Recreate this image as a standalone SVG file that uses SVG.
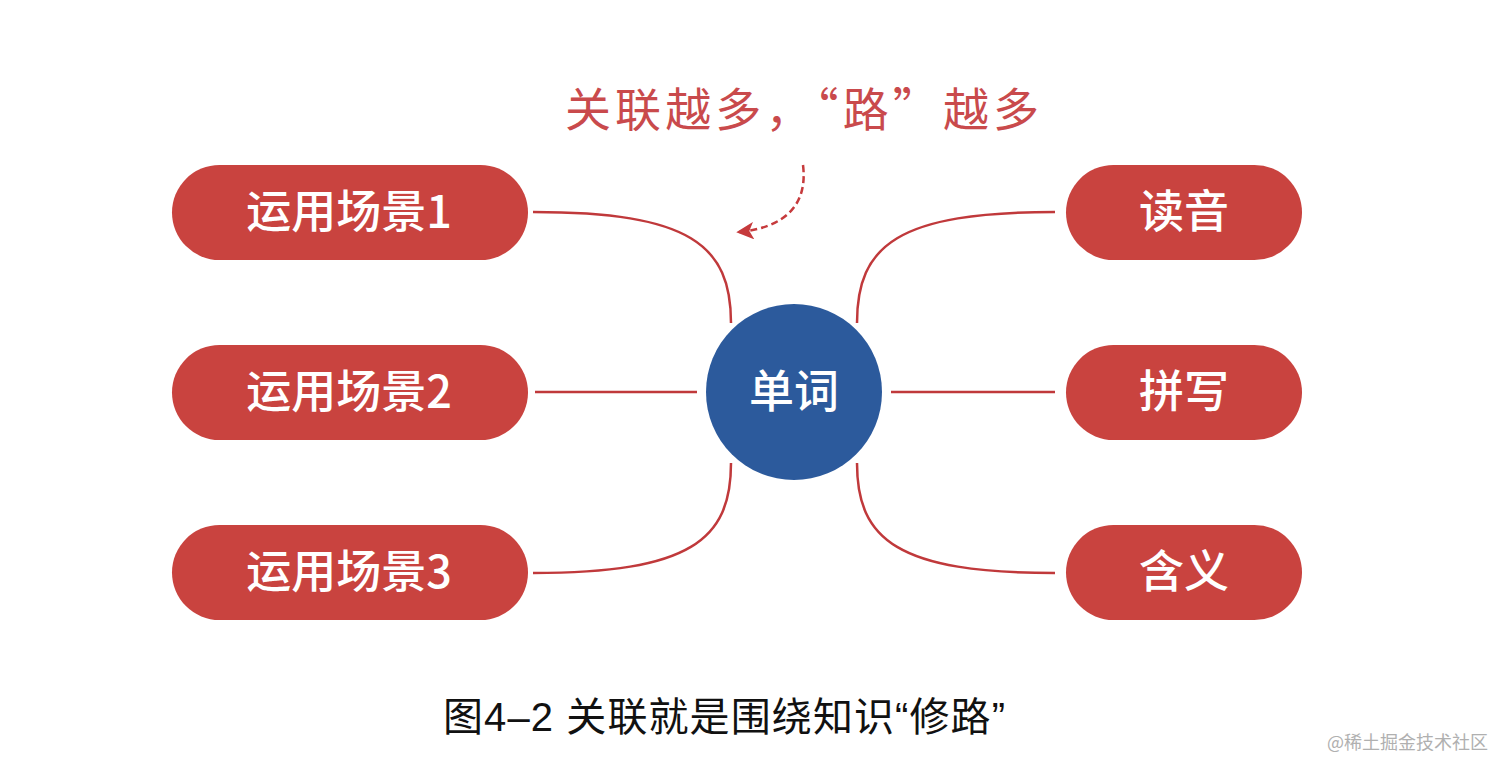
<svg xmlns="http://www.w3.org/2000/svg" width="1512" height="775" viewBox="0 0 1512 775">
<defs>
<style>
.pill{fill:#c9433f;}
.pt{fill:#ffffff;font-family:"Noto Sans CJK SC","Liberation Sans",sans-serif;font-size:45px;font-weight:500;text-anchor:middle;}
.con{fill:none;stroke:#c0393b;stroke-width:2.5;}
</style>
<marker id="ah" viewBox="0 0 10 10" refX="9" refY="5" markerWidth="7" markerHeight="7" markerUnits="strokeWidth" orient="auto">
<path d="M0,0 L10,5 L0,10 L2.5,5 Z" fill="#c63a3c"/>
</marker>
</defs>
<rect width="1512" height="775" fill="#ffffff"/>

<text id="note" x="802" y="126" fill="#c94a4c" font-family="Noto Sans CJK SC,sans-serif" font-size="46" text-anchor="middle" textLength="474" lengthAdjust="spacing">关联越多，“路”越多</text>

<g id="connectors">
<path class="con" d="M533,212 C690,212 731,245 731,323"/>
<path class="con" d="M535,392 L697,392"/>
<path class="con" d="M731,463 C731,540 690,573 533,573"/>
<path class="con" d="M857,323 C857,245 898,212 1055,212"/>
<path class="con" d="M891,392 L1055,392"/>
<path class="con" d="M857,463 C857,540 898,573 1055,573"/>
<path d="M803,165 C808,205 785,228 738,232" fill="none" stroke="#c63a3c" stroke-width="2.5" stroke-dasharray="7,4" marker-end="url(#ah)"/>
</g>

<g id="center">
<circle cx="794" cy="392" r="88" fill="#2c5a9c"/>
<text class="pt" x="794" y="408">单词</text>
</g>

<g id="scene1">
<rect class="pill" x="172" y="165" width="356" height="95" rx="47.5"/>
<text class="pt" x="349" y="228">运用场景1</text>
</g>
<g id="scene2">
<rect class="pill" x="172" y="345" width="356" height="95" rx="47.5"/>
<text class="pt" x="349" y="408">运用场景2</text>
</g>
<g id="scene3">
<rect class="pill" x="172" y="525" width="356" height="95" rx="47.5"/>
<text class="pt" x="349" y="588">运用场景3</text>
</g>

<g id="pronunciation">
<rect class="pill" x="1066" y="165" width="236" height="95" rx="47.5"/>
<text class="pt" x="1184" y="228">读音</text>
</g>
<g id="spelling">
<rect class="pill" x="1066" y="345" width="236" height="95" rx="47.5"/>
<text class="pt" x="1184" y="408">拼写</text>
</g>
<g id="meaning">
<rect class="pill" x="1066" y="525" width="236" height="95" rx="47.5"/>
<text class="pt" x="1184" y="588">含义</text>
</g>

<text id="caption" x="724" y="731" fill="#111111" font-family="Liberation Sans,Noto Sans CJK SC,sans-serif" font-size="40" text-anchor="middle" textLength="562" lengthAdjust="spacing">图4–2 关联就是围绕知识“修路”</text>

<text id="watermark" x="1488" y="749" fill="#b0b0b0" font-family="Noto Sans CJK SC,sans-serif" font-size="18" text-anchor="end">@稀土掘金技术社区</text>
</svg>
